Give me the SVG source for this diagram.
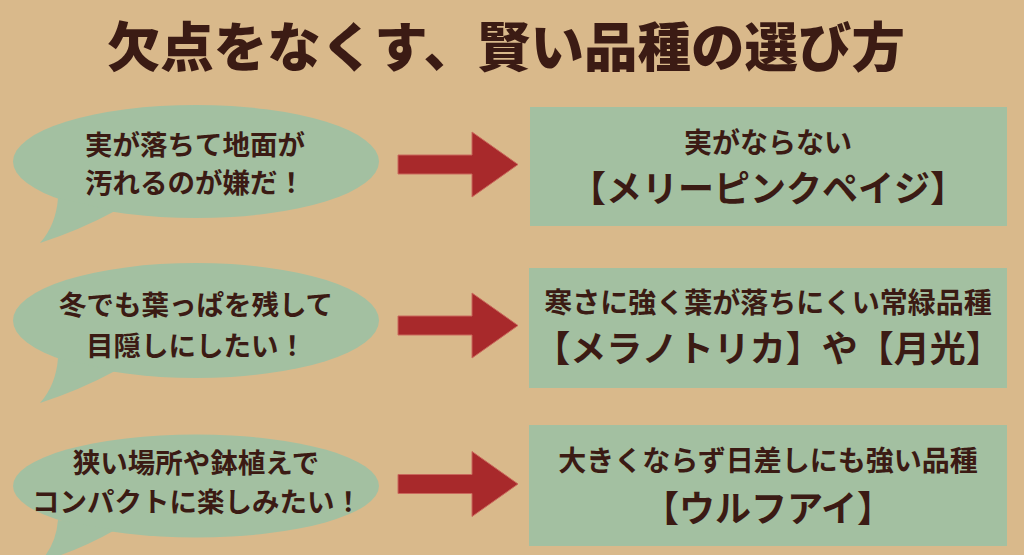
<svg xmlns="http://www.w3.org/2000/svg" width="1024" height="555" viewBox="0 0 1024 555">
  <defs>
    <style>
      .bg { fill: #d9b98b; }
      .bubble { fill: #a3c0a1; }
      .box { fill: #a3c0a1; }
      .arrow { fill: #a8292b; stroke: #c9685c; stroke-width: 1; }
      text { font-family: "Noto Sans CJK JP", "Noto Sans CJK SC", sans-serif; fill: #3b1b14; text-anchor: middle; font-weight: 700; }
      .title { font-size: 53.5px; font-weight: 900; }
      .q { font-size: 27.5px; }
      .a1 { font-size: 28px; }
      .a2 { font-size: 36px; }
    </style>
    <path id="arr" d="M398,-9.5 H472 V-32.5 L518,0 L472,32.5 V9.5 H398 Z"/>
  </defs>
  <rect class="bg" x="0" y="0" width="1024" height="555"/>
  <g id="title">
    <text class="title" x="506" y="67">欠点をなくす、賢い品種の選び方</text>
  </g>

  <g id="bubble1">
    <ellipse class="bubble" cx="196" cy="161.5" rx="183" ry="56.5"/>
    <path class="bubble" d="M58 198 Q56 225 40 243 Q80 230 115 211 Z"/>
    <text class="q" x="195" y="155">実が落ちて地面が</text>
    <text class="q" x="195" y="193">汚れるのが嫌だ！</text>
  </g>
  <g id="bubble2">
    <ellipse class="bubble" cx="196" cy="320.5" rx="183" ry="57.5"/>
    <path class="bubble" d="M58 358 Q56 385 40 403 Q80 390 115 371 Z"/>
    <text class="q" x="196" y="315">冬でも葉っぱを残して</text>
    <text class="q" x="196" y="356">目隠しにしたい！</text>
  </g>
  <g id="bubble3">
    <ellipse class="bubble" cx="196" cy="486" rx="183" ry="51.5"/>
    <path class="bubble" d="M58 520 Q56 545 40 562 Q80 550 115 530 Z"/>
    <text class="q" x="196" y="473">狭い場所や鉢植えで</text>
    <text class="q" x="197" y="512">コンパクトに楽しみたい！</text>
  </g>

  <g id="connectors">
    <use href="#arr" class="arrow" transform="translate(0,164.5)"/>
    <use href="#arr" class="arrow" transform="translate(0,325.5)"/>
    <use href="#arr" class="arrow" transform="translate(0,484)"/>
  </g>

  <g id="box1">
    <rect class="box" x="530" y="107" width="477" height="119"/>
    <text class="a1" x="768" y="153">実がならない</text>
    <text class="a2" x="768" y="202">【メリーピンクペイジ】</text>
  </g>
  <g id="box2">
    <rect class="box" x="529" y="268" width="478" height="120"/>
    <text class="a1" x="768" y="313">寒さに強く葉が落ちにくい常緑品種</text>
    <text class="a2" x="768" y="362">【メラノトリカ】や【月光】</text>
  </g>
  <g id="box3">
    <rect class="box" x="529" y="425" width="478" height="121"/>
    <text class="a1" x="768" y="471">大きくならず日差しにも強い品種</text>
    <text class="a2" x="768" y="522">【ウルフアイ】</text>
  </g>
</svg>
